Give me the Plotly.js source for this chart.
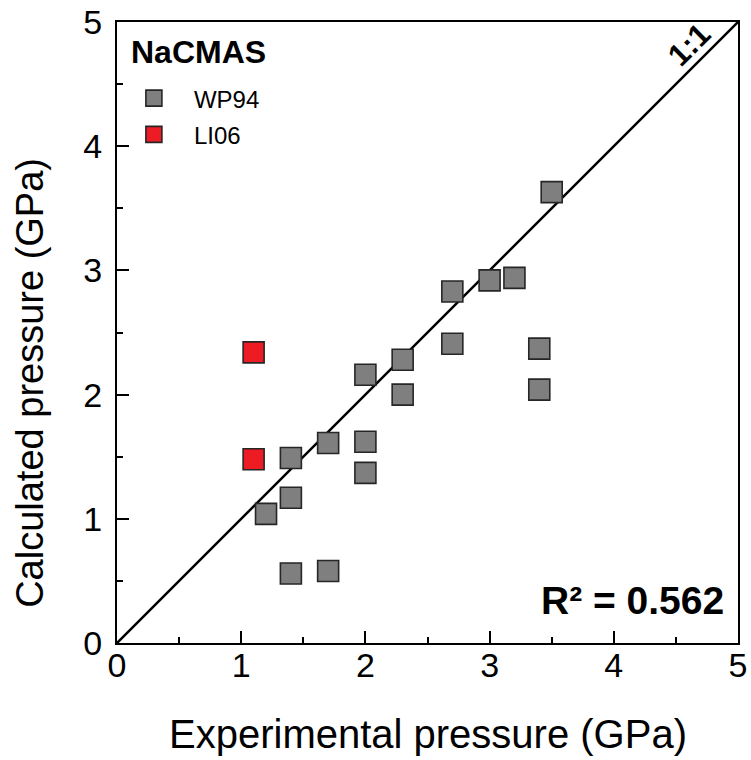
<!DOCTYPE html>
<html>
<head>
<meta charset="utf-8">
<script src="https://cdn.plot.ly/plotly-3.0.1.min.js"></script>
<style>html,body{margin:0;padding:0;background:#fff;}#chart{width:751px;height:760px;}</style>
</head>
<body>
<div id="chart"></div>
<script>
// WP94 series (experimental vs calculated pressure, GPa)
const wp94Exp  = [1.2, 1.4, 1.4, 1.4, 1.7, 1.7, 2.0, 2.0, 2.0, 2.3, 2.3, 2.7, 2.7, 3.0, 3.2, 3.4, 3.4, 3.5];
const wp94Calc = [1.04, 1.17, 1.49, 0.56, 0.58, 1.61, 1.62, 1.37, 2.16, 2.28, 2.00, 2.83, 2.41, 2.92, 2.94, 2.37, 2.04, 3.63];
// LI06 series
const li06Exp  = [1.1, 1.1];
const li06Calc = [2.34, 1.48];
// 1:1 reference line
const oneToOne = [0, 5];
const axisTicks = [0, 1, 2, 3, 4, 5];
const seriesNames = ['WP94', 'LI06'];
const groupName = 'NaCMAS';
const r2Text = 'R² = 0.562';

const FONT = 'Liberation Sans, Arial, sans-serif';

const traces = [
  {x: oneToOne, y: oneToOne, mode: 'lines', line: {color: '#000', width: 2.5}, showlegend: false, hoverinfo: 'skip'},
  {x: wp94Exp, y: wp94Calc, mode: 'markers', name: seriesNames[0], legendgroup: 'a',
   marker: {symbol: 'square', size: 21, color: '#7f7f7f', line: {color: '#262626', width: 1.6}}},
  {x: li06Exp, y: li06Calc, mode: 'markers', name: seriesNames[1], legendgroup: 'b',
   marker: {symbol: 'square', size: 21, color: '#ed1c24', line: {color: '#262626', width: 1.6}}}
];

const axisCommon = {
  range: [0, 5], tickvals: axisTicks, ticktext: axisTicks.map(String),
  showgrid: false, zeroline: false, showline: true, linecolor: '#000', linewidth: 2,
  mirror: true, ticks: 'inside', ticklen: 12, tickwidth: 2, tickcolor: '#000',
  minor: {dtick: 0.5, ticks: 'inside', ticklen: 6, tickwidth: 2, tickcolor: '#000', showgrid: false},
  tickfont: {family: FONT, size: 34, color: '#000'}
};

const layout = {
  width: 751, height: 760,
  margin: {l: 117, r: 13, t: 22, b: 117, pad: 0},
  paper_bgcolor: '#fff', plot_bgcolor: '#fff',
  showlegend: true,
  legend: {
    x: -0.005, y: 0.913, xanchor: 'left', yanchor: 'top',
    bgcolor: 'rgba(0,0,0,0)', borderwidth: 0,
    font: {family: FONT, size: 24, color: '#000'},
    tracegroupgap: 2, itemsizing: 'trace', itemwidth: 70
  },
  xaxis: Object.assign({}, axisCommon, {ticklabelstandoff: -9}),
  yaxis: Object.assign({}, axisCommon, {ticklabelstandoff: 6}),
  annotations: [
    {xref: 'paper', yref: 'paper', x: 0.5, y: -0.147, xanchor: 'center', yanchor: 'middle', showarrow: false,
     text: 'Experimental pressure (GPa)', font: {family: FONT, size: 40, color: '#000'}},
    {xref: 'paper', yref: 'paper', x: -0.14, y: 0.419, xanchor: 'center', yanchor: 'middle', showarrow: false,
     textangle: -90, text: 'Calculated pressure (GPa)', font: {family: FONT, size: 38, color: '#000'}},
    {xref: 'paper', yref: 'paper', x: 0.981, y: 0.068, xanchor: 'right', yanchor: 'middle', showarrow: false,
     text: '<b>' + r2Text + '</b>', font: {family: FONT, size: 39, color: '#000'}},
    {xref: 'paper', yref: 'paper', x: 0.02, y: 0.951, xanchor: 'left', yanchor: 'middle', showarrow: false,
     text: '<b>' + groupName + '</b>', font: {family: FONT, size: 32, color: '#000'}},
    {xref: 'x', yref: 'y', x: 4.61, y: 4.815, xanchor: 'center', yanchor: 'middle', showarrow: false,
     textangle: -45, text: '<b>1:1</b>', font: {family: FONT, size: 31, color: '#000'}}
  ]
};

Plotly.newPlot('chart', traces, layout, {staticPlot: true, displayModeBar: false});
</script>
</body>
</html>
